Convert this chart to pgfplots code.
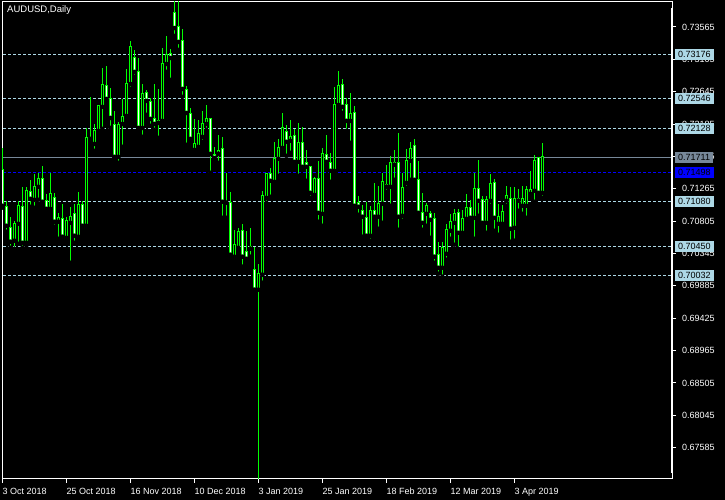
\documentclass[border=0pt]{standalone}
\usepackage{pgfplots}
\pgfplotsset{compat=1.18}
\usepackage{pgfplotstable}
\usepackage{fontspec}
\setmainfont{Liberation Sans}
\definecolor{cgreen}{RGB}{0,255,0}
\definecolor{lblue}{RGB}{173,216,230}
\definecolor{lsgray}{RGB}{119,136,153}
\definecolor{cblue}{RGB}{0,0,255}

\pgfplotstableread{
k O H L C
0 0.71535 0.71847 0.70995 0.71024
1 0.71010 0.71095 0.70655 0.70740
2 0.70711 0.70868 0.70427 0.70513
3 0.70527 0.70811 0.70413 0.70768
4 0.70768 0.71095 0.70484 0.71024
5 0.71010 0.71294 0.70427 0.70498
6 0.70498 0.71294 0.70456 0.71237
7 0.71223 0.71393 0.71010 0.71123
8 0.71109 0.71478 0.70995 0.71294
9 0.71294 0.71492 0.71109 0.71407
10 0.71407 0.71592 0.71066 0.71081
11 0.71095 0.71194 0.70924 0.70981
12 0.70981 0.71492 0.70924 0.71194
13 0.71137 0.71208 0.70726 0.70797
14 0.70797 0.70924 0.70555 0.70853
15 0.70839 0.71052 0.70555 0.70584
16 0.70569 0.70868 0.70541 0.70811
17 0.70782 0.71010 0.70214 0.70868
18 0.70910 0.71052 0.70498 0.70598
19 0.70584 0.71223 0.70555 0.71038
20 0.71038 0.71095 0.70683 0.70740
21 0.70740 0.72131 0.70726 0.71989
22 0.71989 0.72572 0.71918 0.71975
23 0.71904 0.72188 0.71805 0.72089
24 0.72089 0.72458 0.72032 0.72444
25 0.72430 0.72983 0.72117 0.72742
26 0.72728 0.73012 0.72486 0.72543
27 0.72543 0.72699 0.72131 0.72273
28 0.72174 0.72373 0.71720 0.71720
29 0.71720 0.72217 0.71634 0.72174
30 0.72188 0.72543 0.71862 0.72288
31 0.72302 0.72969 0.72273 0.72756
32 0.72756 0.73367 0.72685 0.73282
33 0.73125 0.73239 0.72856 0.72927
34 0.72927 0.73125 0.72075 0.72131
35 0.72131 0.72756 0.72004 0.72614
36 0.72628 0.72671 0.72316 0.72515
37 0.72501 0.72557 0.72160 0.72259
38 0.72259 0.72756 0.72103 0.72188
39 0.72202 0.72685 0.71989 0.72231
40 0.72231 0.73267 0.72202 0.73040
41 0.73040 0.73438 0.72927 0.73168
42 0.73182 0.73253 0.72813 0.73125
43 0.73764 0.73960 0.73438 0.73551
44 0.73566 0.73960 0.73239 0.73353
45 0.73367 0.73537 0.72572 0.72685
46 0.72671 0.72728 0.71890 0.72344
47 0.72330 0.72415 0.71961 0.71975
48 0.71819 0.72259 0.71762 0.71904
49 0.71862 0.72245 0.71805 0.72046
50 0.72004 0.72373 0.71933 0.72188
51 0.72188 0.72458 0.72103 0.72259
52 0.72259 0.72273 0.71492 0.71762
53 0.71748 0.71862 0.71649 0.71705
54 0.71762 0.72032 0.71634 0.71805
55 0.71833 0.72004 0.70853 0.71081
56 0.71081 0.71492 0.70853 0.71066
57 0.71066 0.71223 0.70328 0.70328
58 0.70300 0.70683 0.70300 0.70470
59 0.70427 0.70711 0.70399 0.70655
60 0.70669 0.70768 0.70158 0.70300
61 0.70371 0.70669 0.70229 0.70271
62 0.70413 0.70711 0.70300 0.70442
63 0.70115 0.70442 0.69803 0.69831
64 0.69831 0.70200 0.67100 0.70058
65 0.70044 0.71237 0.69930 0.71166
66 0.71137 0.71492 0.71066 0.71478
67 0.71478 0.71563 0.71152 0.71379
68 0.71365 0.71933 0.71322 0.71691
69 0.71691 0.71975 0.71450 0.71847
70 0.71847 0.72344 0.71805 0.72131
71 0.72075 0.72174 0.71734 0.71933
72 0.71947 0.72245 0.71776 0.72004
73 0.72018 0.72117 0.71592 0.71649
74 0.71649 0.72202 0.71450 0.71918
75 0.71918 0.72146 0.71563 0.71578
76 0.71634 0.71819 0.71379 0.71578
77 0.71578 0.71592 0.71137 0.71208
78 0.71180 0.71436 0.71152 0.71407
79 0.71407 0.71663 0.70797 0.70924
80 0.70910 0.71847 0.70740 0.71762
81 0.71748 0.72032 0.71592 0.71649
82 0.71634 0.71776 0.71365 0.71521
83 0.71521 0.72714 0.71492 0.72458
84 0.72458 0.72941 0.72415 0.72728
85 0.72742 0.72827 0.72344 0.72430
86 0.72458 0.72557 0.72089 0.72231
87 0.72231 0.72628 0.71918 0.72330
88 0.72344 0.72444 0.71024 0.71024
89 0.71066 0.71166 0.70896 0.71010
90 0.70953 0.71038 0.70584 0.70868
91 0.70853 0.71081 0.70555 0.70598
92 0.70598 0.71024 0.70527 0.70953
93 0.70953 0.71350 0.70839 0.70868
94 0.70868 0.71308 0.70697 0.71052
95 0.71052 0.71492 0.70782 0.71365
96 0.71294 0.71606 0.71223 0.71322
97 0.71294 0.71734 0.71024 0.71634
98 0.71606 0.71819 0.71393 0.71634
99 0.71634 0.72060 0.70683 0.70868
100 0.70882 0.71492 0.70811 0.71279
101 0.71350 0.71833 0.71279 0.71663
102 0.71663 0.71933 0.71393 0.71833
103 0.71876 0.71975 0.71350 0.71393
104 0.71393 0.71663 0.70882 0.70924
105 0.70924 0.71208 0.70683 0.70782
106 0.70910 0.71066 0.70740 0.71024
107 0.70910 0.70953 0.70569 0.70825
108 0.70839 0.70924 0.70214 0.70300
109 0.70328 0.70513 0.70058 0.70143
110 0.70143 0.70513 0.70016 0.70427
111 0.70342 0.70768 0.70257 0.70683
112 0.70669 0.70910 0.70555 0.70797
113 0.70782 0.70981 0.70470 0.70910
114 0.70924 0.70981 0.70413 0.70640
115 0.70640 0.70967 0.70598 0.70839
116 0.70839 0.71194 0.70782 0.70995
117 0.70995 0.71109 0.70825 0.70853
118 0.70853 0.71492 0.70555 0.71265
119 0.71265 0.71677 0.70882 0.71095
120 0.71109 0.71166 0.70740 0.70782
121 0.70782 0.71166 0.70640 0.71109
122 0.71095 0.71478 0.71024 0.71336
123 0.71350 0.71407 0.70669 0.70853
124 0.70768 0.71052 0.70612 0.70868
125 0.70768 0.71038 0.70726 0.70939
126 0.71095 0.71308 0.71024 0.71166
127 0.71123 0.71294 0.70513 0.70697
128 0.70711 0.71294 0.70527 0.71123
129 0.71123 0.71265 0.70953 0.71095
130 0.71024 0.71308 0.70910 0.71123
131 0.71024 0.71308 0.70853 0.71251
132 0.71194 0.71521 0.71152 0.71251
133 0.71237 0.71748 0.71081 0.71663
134 0.71705 0.71720 0.71152 0.71208
135 0.71208 0.71918 0.71137 0.71720
}\ohlc

\begin{document}
\begin{tikzpicture}[font=\fontsize{9}{10}\selectfont]
\fill[black] (-2pt,-21pt) rectangle (723pt,479pt);
\begin{axis}[
  scale only axis, width=670pt, height=477pt,
  xmin=-0.1, xmax=167.4, ymin=0.67140, ymax=0.73920,
  clip mode=individual,
  axis line style={white, line width=1pt},
  tick style={white, line width=1pt},
  major tick length=4pt, tick align=outside,
  xtick pos=left, ytick pos=right, yticklabel pos=right,
  xtick={0,16,32,48,64,80,96,112,128},
  xticklabels={3 Oct 2018, 25 Oct 2018, 16 Nov 2018, 10 Dec 2018, 3 Jan 2019, 25 Jan 2019, 18 Feb 2019, 12 Mar 2019, 3 Apr 2019},
  xticklabel style={anchor=north west, inner sep=0pt, yshift=-5pt, text=white},
  ytick={0.67585,0.68045,0.68505,0.68965,0.69425,0.69885,0.70345,0.70805,0.71265,0.71725,0.72185,0.72645,0.73105,0.73565},
  yticklabel style={anchor=west, inner sep=0pt, xshift=6pt, text=white,
    /pgf/number format/.cd, fixed, fixed zerofill, precision=5},
  scaled y ticks=false,
  /pgf/number format/assume math mode=true,
]
% level lines
\addplot[lblue, line width=1pt, dash pattern=on 3pt off 2pt] coordinates {(-1,0.73176) (170,0.73176)};
\addplot[lblue, line width=1pt, dash pattern=on 3pt off 2pt] coordinates {(-1,0.72546) (170,0.72546)};
\addplot[lblue, line width=1pt, dash pattern=on 3pt off 2pt] coordinates {(-1,0.72128) (170,0.72128)};
\addplot[lblue, line width=1pt, dash pattern=on 3pt off 2pt] coordinates {(-1,0.71080) (170,0.71080)};
\addplot[lblue, line width=1pt, dash pattern=on 3pt off 2pt] coordinates {(-1,0.70450) (170,0.70450)};
\addplot[lblue, line width=1pt, dash pattern=on 3pt off 2pt] coordinates {(-1,0.70032) (170,0.70032)};
\addplot[cblue, line width=1pt, dash pattern=on 3pt off 2pt] coordinates {(-1,0.71498) (170,0.71498)};
\addplot[lsgray, line width=1pt] coordinates {(-1,0.71711) (170,0.71711)};
% wicks
\addplot[only marks, mark=none, error bars/.cd, y dir=plus, y explicit, error mark=none,
  error bar style={draw=cgreen, line width=1pt}]
  table[x=k, y=L, y error expr={\thisrow{H}-\thisrow{L}}] {\ohlc};
% bodies outline
\addplot[only marks, mark=none, error bars/.cd, y dir=plus, y explicit, error mark=none,
  error bar style={draw=cgreen, line width=3pt, shorten <=-0.5pt, shorten >=-0.5pt}]
  table[x=k, y expr={min(\thisrow{O},\thisrow{C})}, y error expr={abs(\thisrow{O}-\thisrow{C})}] {\ohlc};
% bear fill (white)
\addplot[only marks, mark=none, restrict expr to domain={\thisrow{O}-\thisrow{C}}{0.00015:1},
  error bars/.cd, y dir=plus, y explicit, error mark=none,
  error bar style={draw=white, line width=1pt, shorten <=0.5pt, shorten >=0.5pt}]
  table[x=k, y=C, y error expr={\thisrow{O}-\thisrow{C}}] {\ohlc};
% bull fill (black)
\addplot[only marks, mark=none, restrict expr to domain={\thisrow{C}-\thisrow{O}}{0.00015:1},
  error bars/.cd, y dir=plus, y explicit, error mark=none,
  error bar style={draw=black, line width=1pt, shorten <=0.5pt, shorten >=0.5pt}]
  table[x=k, y=O, y error expr={\thisrow{C}-\thisrow{O}}] {\ohlc};
\coordinate (nw) at (rel axis cs:0,1);
\coordinate (ne) at (rel axis cs:1,1);
\coordinate (se) at (rel axis cs:1,0);
\coordinate (l1) at (axis cs:167.4,0.73176);
\coordinate (l2) at (axis cs:167.4,0.72546);
\coordinate (l3) at (axis cs:167.4,0.72128);
\coordinate (l4) at (axis cs:167.4,0.71080);
\coordinate (l5) at (axis cs:167.4,0.70450);
\coordinate (l6) at (axis cs:167.4,0.70032);
\coordinate (lb) at (axis cs:167.4,0.71498);
\coordinate (lg) at (axis cs:167.4,0.71711);
\end{axis}
\draw[white, line width=2pt] ([yshift=-6pt]ne) -- ([yshift=6pt]se);
\tikzset{lab/.style={anchor=west, xshift=3pt, inner xsep=3pt, inner ysep=0pt, minimum height=11pt, text=black}}
\node[lab, fill=lblue] at (l1) {0.73176};
\node[lab, fill=lblue] at (l2) {0.72546};
\node[lab, fill=lblue] at (l3) {0.72128};
\node[lab, fill=lblue] at (l4) {0.71080};
\node[lab, fill=lblue] at (l5) {0.70450};
\node[lab, fill=lblue] at (l6) {0.70032};
\node[lab, fill=cblue] at (lb) {0.71498};
\node[lab, fill=lsgray] at (lg) {0.71711};
\node[anchor=north west, inner sep=0pt, text=white, font=\fontsize{9.5}{11}\selectfont] at ([xshift=5pt,yshift=-3pt]nw) {AUDUSD,Daily};
\pgfresetboundingbox
\path (-2pt,-21pt) rectangle (723pt,479pt);
\end{tikzpicture}
\end{document}
